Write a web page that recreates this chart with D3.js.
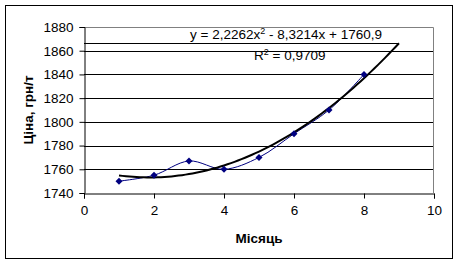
<!DOCTYPE html>
<html>
<head>
<meta charset="utf-8">
<script src="https://cdn.jsdelivr.net/npm/d3@7"></script>
<style>
  body { margin: 0; background: #fff; }
  svg { font-family: "Liberation Sans", Arial, sans-serif; }
</style>
</head>
<body>
<svg id="chart" width="459" height="264"></svg>
<script>
// data
var months = [1, 2, 3, 4, 5, 6, 7, 8];
var prices = [1750, 1755, 1767, 1760, 1770, 1790, 1810, 1840];
var trendCoef = [2.2262, -8.3214, 1760.9];
var xTicks = [0, 2, 4, 6, 8, 10];
var yTicks = [1740, 1760, 1780, 1800, 1820, 1840, 1860, 1880];

var margin = {top: 27, right: 25, bottom: 71, left: 84},
    width = 459 - margin.left - margin.right,
    height = 264 - margin.top - margin.bottom;

var svg = d3.select("#chart");

// outer frame
svg.append("rect")
    .attr("x", 5.5).attr("y", 5.5)
    .attr("width", 447).attr("height", 253)
    .attr("fill", "#fff").attr("stroke", "#000");

var g = svg.append("g")
    .attr("transform", "translate(" + margin.left + "," + margin.top + ")");

var x = d3.scaleLinear().domain([0, 10]).range([0, width]);
var y = d3.scaleLinear().domain([1740, 1880]).range([height, 0]);

// grid
g.selectAll(".grid")
    .data(yTicks.filter(d => d > 1740 && d < 1880))
    .enter().append("line")
    .attr("x1", 0).attr("x2", width)
    .attr("y1", d => Math.round(y(d)) + 0.5)
    .attr("y2", d => Math.round(y(d)) + 0.5)
    .attr("stroke", "#000");

// plot border top/right
g.append("path")
    .attr("d", "M0," + 0.5 + "H" + (width - 0.5) + "V" + height)
    .attr("fill", "none").attr("stroke", "#808080");

var xAxis = d3.axisBottom(x).tickValues(xTicks).tickFormat(d3.format("d")).tickSize(5).tickPadding(7);
var yAxis = d3.axisLeft(y).tickValues(yTicks).tickFormat(d3.format("d")).tickSize(5).tickPadding(6);

var gx = g.append("g")
    .attr("transform", "translate(0," + (Math.round(height) + 0.5) + ")")
    .call(xAxis);
var gy = g.append("g").attr("transform", "translate(0.5,0)").call(yAxis);

[gx, gy].forEach(a => {
    a.select(".domain").attr("stroke", "#000");
    a.selectAll("line").attr("stroke", "#000");
    a.selectAll("text").attr("fill", "#000").style("font-size", "13.5px")
        .style("font-family", "'Liberation Sans', Arial, sans-serif");
});

// line at the trend's last value
function trend(m) { return trendCoef[0] * m * m + trendCoef[1] * m + trendCoef[2]; }
g.append("line")
    .attr("x1", 0).attr("x2", x(9))
    .attr("y1", Math.round(y(trend(9))) + 0.5)
    .attr("y2", Math.round(y(trend(9))) + 0.5)
    .attr("stroke", "#000");

// series line
var pts = months.map((m, i) => [m, prices[i]]);
g.append("path")
    .datum(pts)
    .attr("fill", "none")
    .attr("stroke", "#000080")
    .attr("stroke-width", 1)
    .attr("d", d3.line().x(d => x(d[0])).y(d => y(d[1])).curve(d3.curveCatmullRom.alpha(0.5)));

// trend line
var tr = d3.range(1, 9.01, 0.1).map(m => [m, trend(m)]);
g.append("path")
    .datum(tr)
    .attr("fill", "none")
    .attr("stroke", "#000")
    .attr("stroke-width", 2)
    .attr("d", d3.line().x(d => x(d[0])).y(d => y(d[1])));

// markers
g.selectAll(".pt")
    .data(pts)
    .enter().append("path")
    .attr("transform", d => "translate(" + x(d[0]) + "," + y(d[1]) + ")")
    .attr("d", "M0,-3.5L3.5,0L0,3.5L-3.5,0Z")
    .attr("fill", "#000080");

// equation
var eq = g.append("text").attr("x", 106).attr("y", 12)
    .style("font-size", "13.5px").attr("fill", "#000");
eq.append("tspan").text("y = 2,2262x");
eq.append("tspan").attr("dy", -5).style("font-size", "9px").text("2");
eq.append("tspan").attr("dy", 5).text(" - 8,3214x + 1760,9");

var r2 = g.append("text").attr("x", 170).attr("y", 33)
    .style("font-size", "13.5px").attr("fill", "#000");
r2.append("tspan").text("R");
r2.append("tspan").attr("dy", -5).style("font-size", "9px").text("2");
r2.append("tspan").attr("dy", 5).text(" = 0,9709");

// axis titles
svg.append("text")
    .attr("x", margin.left + width / 2).attr("y", 243)
    .attr("text-anchor", "middle")
    .style("font-size", "13.5px").style("font-weight", "bold")
    .text("Місяць");

svg.append("text")
    .attr("transform", "translate(33," + (margin.top + height / 2) + ") rotate(-90)")
    .attr("text-anchor", "middle")
    .style("font-size", "13.5px").style("font-weight", "bold")
    .text("Ціна, грн/т");
</script>
</body>
</html>
